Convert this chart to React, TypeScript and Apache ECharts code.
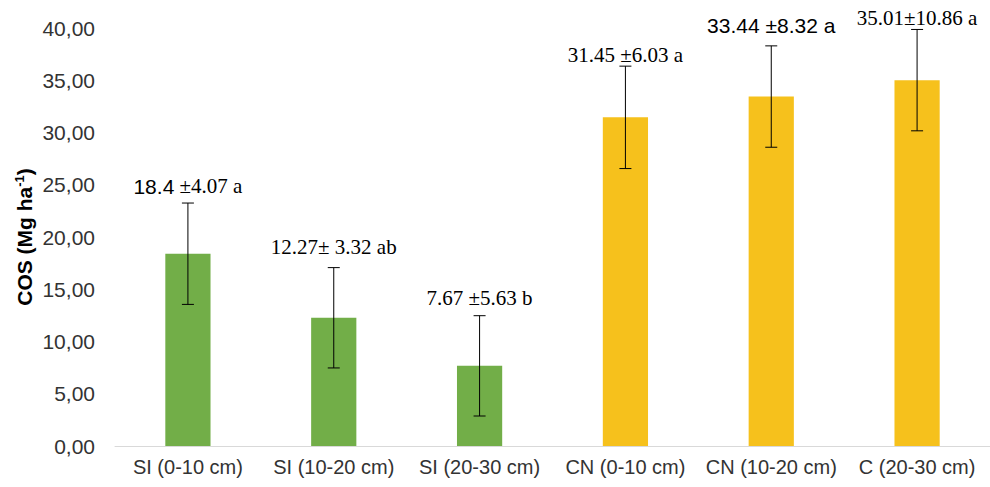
import React, { useEffect, useRef } from "react";
import * as echarts from "echarts";

const CATEGORIES = ["SI (0-10 cm)", "SI (10-20 cm)", "SI (20-30 cm)", "CN (0-10 cm)", "CN (10-20 cm)", "C (20-30 cm)"];
const MEANS = [18.4, 12.27, 7.67, 31.45, 33.44, 35.01];
// error bar half-lengths as drawn in the picture
const ERRORS = [4.85, 4.8, 4.8, 4.9, 4.85, 4.85];
const LABELS = [
  "{s|18.4}{t| ±4.07 a}",
  "{t|12.27± 3.32 ab}",
  "{t|7.67 ±5.63 b}",
  "{t|31.45 ±6.03 a}",
  "{s|33.44 ±8.32 a}",
  "{t|35.01±10.86 a}",
];
const Y_TICKS_MAX = 40;
const Y_TICK_STEP = 5;

// styling
const GREEN = "#72ae48";
const GOLD = "#f6c11c";
const LABEL_GAP = [17, 21, 18, 11, 20, 11];

export default function App() {
  const ref = useRef<HTMLDivElement>(null);
  useEffect(() => {
    document.body.style.margin = "0";
    const chart = echarts.init(ref.current!, null, { renderer: "svg" });
    const rich = {
      s: { fontFamily: "Liberation Sans", fontSize: 21, color: "#1a1a1a" },
      t: { fontFamily: "Liberation Serif", fontSize: 21, color: "#111" },
    };
    chart.setOption({
      animation: false,
      grid: { left: 115, right: 0, top: 28, bottom: 41 },
      xAxis: {
        type: "category",
        data: CATEGORIES,
        axisLine: { lineStyle: { color: "#d9d9d9", width: 1 } },
        axisTick: { show: false },
        axisLabel: {
          fontFamily: "Liberation Sans",
          fontSize: 20,
          color: "#333",
          margin: 11,
          interval: 0,
        },
      },
      yAxis: {
        type: "value",
        min: 0,
        max: Y_TICKS_MAX,
        interval: Y_TICK_STEP,
        axisLine: { show: false },
        axisTick: { show: false },
        splitLine: { show: false },
        axisLabel: {
          fontFamily: "Liberation Sans",
          fontSize: 21,
          color: "#333",
          margin: 20,
          formatter: (v: number) => v.toFixed(2).replace(".", ","),
        },
      },
      graphic: [
        {
          type: "text",
          x: 24,
          y: 237,
          rotation: Math.PI / 2,
          style: {
            text: "{a|COS (Mg ha}{b|-1}{a|)}",
            textAlign: "center",
            textVerticalAlign: "middle",
            rich: {
              a: { fontFamily: "Liberation Sans", fontWeight: "bold", fontSize: 21, color: "#111" },
              b: { fontFamily: "Liberation Sans", fontWeight: "bold", fontSize: 13, color: "#111", verticalAlign: "top", padding: [0, 0, 9, 0] },
            },
          },
        },
      ],
      series: [
        {
          type: "bar",
          barWidth: "31%",
          z: 2,
          data: MEANS.map((v, i) => ({ value: v, itemStyle: { color: i < 3 ? GREEN : GOLD } })),
        },
        {
          type: "custom",
          clip: false,
          z: 5,
          data: MEANS.map((m, i) => [i, m, ERRORS[i]]),
          encode: { x: 0, y: 1 },
          renderItem: (params: any, api: any) => {
            const i = api.value(0);
            const m = api.value(1);
            const e = api.value(2);
            const top = api.coord([i, m + e]);
            const bot = api.coord([i, m - e]);
            const hw = 6;
            const ls = { stroke: "#000", lineWidth: 1 };
            return {
              type: "group",
              children: [
                { type: "line", shape: { x1: top[0], y1: top[1], x2: bot[0], y2: bot[1] }, style: ls },
                { type: "line", shape: { x1: top[0] - hw, y1: top[1], x2: top[0] + hw, y2: top[1] }, style: ls },
                { type: "line", shape: { x1: bot[0] - hw, y1: bot[1], x2: bot[0] + hw, y2: bot[1] }, style: ls },
                {
                  type: "text",
                  x: top[0],
                  y: top[1] - LABEL_GAP[params.dataIndex],
                  style: {
                    text: LABELS[params.dataIndex],
                    textAlign: "center",
                    textVerticalAlign: "middle",
                    rich,
                  },
                },
              ],
            };
          },
        },
      ],
    });
    return () => chart.dispose();
  }, []);
  return <div ref={ref} style={{ width: 990, height: 487 }} />;
}
